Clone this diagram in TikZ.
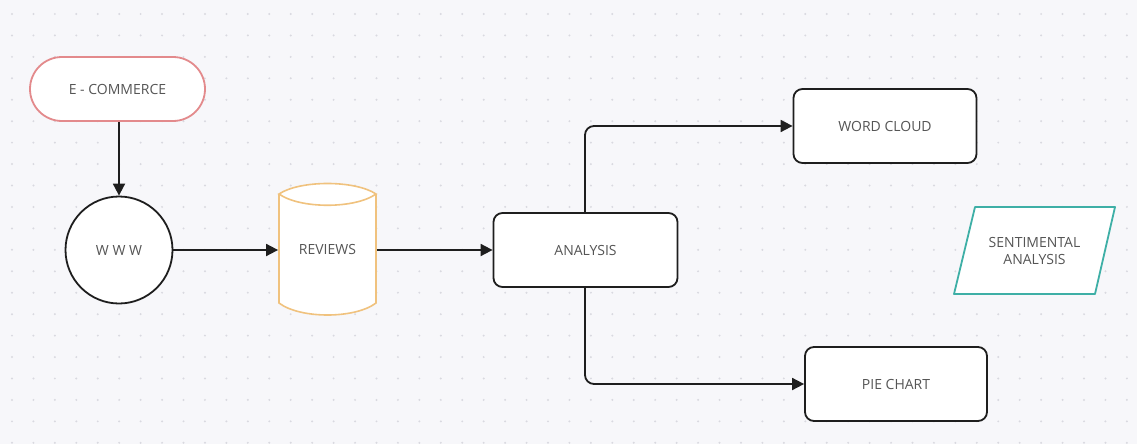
\documentclass[tikz,border=0pt]{standalone}
\usepackage{fontspec}
\setmainfont{Open Sans}
\usetikzlibrary{arrows.meta,shapes.geometric,shapes.misc}
\definecolor{canvas}{HTML}{F7F7FA}
\definecolor{griddot}{HTML}{D9D9E0}
\definecolor{inkline}{HTML}{1E1E1E}
\definecolor{labelgray}{HTML}{555555}
\definecolor{pinkedge}{HTML}{E38A8C}
\definecolor{orangeedge}{HTML}{F0C27E}
\definecolor{tealedge}{HTML}{3EAFA6}
\tikzset{
  labelfont/.style={text=labelgray, font=\fontsize{14}{17}\selectfont},
  shapebase/.style={fill=white, line width=1.8pt, labelfont,
    inner sep=0pt, align=center},
  roundbox/.style={shapebase, draw=inkline, rectangle, rounded corners=9pt,
    minimum width=183pt, minimum height=74pt},
  link/.style={draw=inkline, line width=1.8pt, rounded corners=9pt,
    -{Triangle[length=12pt,width=12pt]}},
}
\begin{document}
\begin{tikzpicture}[x=1pt,y=-1pt]
  % canvas with dotted grid
  \fill[canvas] (0,0) rectangle (1137,444);
  \useasboundingbox (0,0) rectangle (1137,444);
  \foreach \i in {0,...,52} {
    \foreach \j in {0,...,20} {
      \fill[griddot] (12+21.44*\i, 14+21.44*\j) circle (1.1pt);
    }
  }

  % source
  \node[shapebase, draw=pinkedge, rounded rectangle, minimum width=175pt,
        minimum height=64pt] (shop) at (117.5,89) {E - COMMERCE};

  % web
  \node[shapebase, draw=inkline, circle, minimum size=107pt] (web) at (119,250) {W W W};

  % reviews store (cylinder outline drawn around an invisible node)
  \node[shapebase, fill=none, draw=none, minimum width=97pt, minimum height=130pt]
    (reviews) at (327.5,249) {};
  \fill[white] (279,194) .. controls (300,180) and (355,180) .. (376,194)
    -- (376,303) .. controls (355,319) and (300,319) .. (279,303) -- cycle;
  \draw[orangeedge, line width=1.6pt]
    (279,194) .. controls (300,180) and (355,180) .. (376,194)
    .. controls (355,209) and (300,209) .. (279,194) -- cycle
    (279,194) -- (279,303) .. controls (300,319) and (355,319) .. (376,303) -- (376,194);
  \node[labelfont] at (reviews) {REVIEWS};

  % analysis and outputs
  \node[roundbox, minimum width=184pt, minimum height=74pt] (analysis) at (585.5,250) {ANALYSIS};
  \node[roundbox] (cloud) at (885,126) {WORD CLOUD};
  \node[roundbox, minimum width=182pt] (pie) at (896,384) {PIE CHART};

  % parallelogram drawn around an invisible node
  \node[minimum width=140pt, minimum height=87pt, inner sep=0pt] (senti) at (1034.5,250.5) {};
  \filldraw[fill=white, draw=tealedge, line width=1.8pt, line join=round]
    (975,207) -- (1115,207) -- (1095,294) -- (954,294) -- cycle;
  \node[labelfont, align=center] at (senti) {SENTIMENTAL\\ANALYSIS};

  % connectors
  \draw[link] (web.north |- shop.south) -- (web.north);
  \draw[link] (web.east) -- (reviews.west |- web.east);
  \draw[link] (reviews.east |- analysis.west) -- (analysis.west);
  \draw[link] (analysis.north -| 585,0) |- (cloud.west);
  \draw[link] (analysis.south -| 585,0) |- (pie.west);
\end{tikzpicture}
\end{document}
